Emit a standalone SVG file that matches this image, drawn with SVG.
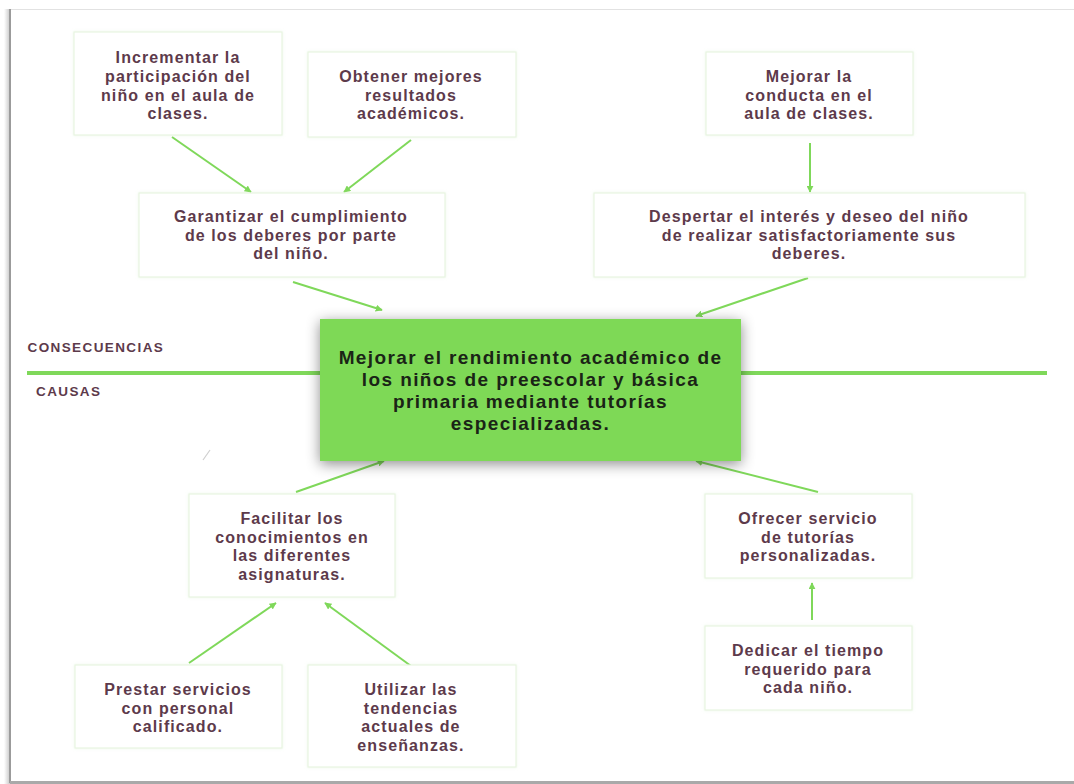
<svg xmlns="http://www.w3.org/2000/svg" width="1074" height="784" viewBox="0 0 1074 784">
<defs>
<style>
.box rect{fill:#ffffff;stroke:#e8f5e2;stroke-width:1.2}
.box text{font-family:"Liberation Sans",Arial,sans-serif;font-weight:700;font-size:16px;fill:#5d3a4b;text-anchor:middle;letter-spacing:1.1px}
.conn line{stroke:#7fd85a;stroke-width:2;marker-end:url(#ah)}
.lbl{font-family:"Liberation Sans",Arial,sans-serif;font-weight:700;font-size:13.5px;fill:#5d3a4b;letter-spacing:1.4px}
.main text{font-family:"Liberation Sans",Arial,sans-serif;font-weight:700;font-size:19px;fill:#1a2416;text-anchor:middle;letter-spacing:1.4px}
</style>
<marker id="ah" viewBox="0 0 10 10" refX="9" refY="5" markerWidth="3.5" markerHeight="3.5" orient="auto" markerUnits="strokeWidth">
<path d="M0,0 L10,5 L0,10 z" fill="#7fd85a"/>
</marker>
<filter id="bs" x="-10%" y="-10%" width="120%" height="120%">
<feDropShadow dx="0" dy="0" stdDeviation="1.5" flood-color="#c4e2b6" flood-opacity="0.3"/>
</filter>
<filter id="ms" x="-15%" y="-30%" width="130%" height="160%">
<feDropShadow dx="0" dy="3" stdDeviation="7" flood-color="#000" flood-opacity="0.45"/>
</filter>
<linearGradient id="lsh" x1="0" y1="0" x2="1" y2="0">
<stop offset="0" stop-color="#ffffff"/>
<stop offset="1" stop-color="#c8c8c8"/>
</linearGradient>
</defs>
<rect x="0" y="0" width="1074" height="784" fill="#ffffff"/>
<g id="frame">
<rect x="4" y="9" width="6" height="775" fill="url(#lsh)"/>
<line x1="10" y1="9.5" x2="1074" y2="9.5" stroke="#e2e2e2" stroke-width="1"/>
<line x1="10" y1="9" x2="10" y2="783" stroke="#9b9b9b" stroke-width="2"/>
<rect x="10" y="781" width="1064" height="3" fill="#a9a9a9"/>
</g>
<g id="axis">
<line x1="27" y1="373" x2="1047" y2="373" stroke="#7fd85a" stroke-width="4"/>
<text class="lbl" x="27.5" y="352">CONSECUENCIAS</text>
<text class="lbl" x="36" y="396">CAUSAS</text>
</g>
<line x1="203" y1="460" x2="210" y2="450" stroke="#cfcfcf" stroke-width="1.2"/>
<g id="connectors" class="conn">
<line x1="172" y1="137" x2="251" y2="192"/>
<line x1="411" y1="140" x2="344" y2="192"/>
<line x1="293" y1="282" x2="382" y2="310"/>
<line x1="810" y1="143" x2="810" y2="192"/>
<line x1="808" y1="278" x2="696" y2="316"/>
<line x1="296" y1="492" x2="384" y2="461"/>
<line x1="818" y1="492" x2="696" y2="461"/>
<line x1="189" y1="663" x2="276" y2="603"/>
<line x1="411" y1="666" x2="325" y2="603"/>
<line x1="812" y1="620" x2="812" y2="583"/>
</g>
<g id="main" class="main">
<rect x="320" y="319" width="421" height="142" fill="#7ed957" filter="url(#ms)"/>
<text x="530.5" y="364">Mejorar el rendimiento académico de</text>
<text x="530.5" y="386">los niños de preescolar y básica</text>
<text x="530.5" y="408">primaria mediante tutorías</text>
<text x="530.5" y="430">especializadas.</text>
</g>
<g id="n1" class="box">
<rect x="74" y="32" width="208" height="103" filter="url(#bs)"/>
<text x="178" y="63">Incrementar la</text>
<text x="178" y="82">participación del</text>
<text x="178" y="100.5">niño en el aula de</text>
<text x="178" y="119">clases.</text>
</g>
<g id="n2" class="box">
<rect x="308" y="52" width="208" height="85" filter="url(#bs)"/>
<text x="411" y="82">Obtener mejores</text>
<text x="411" y="100.5">resultados</text>
<text x="411" y="119">académicos.</text>
</g>
<g id="n3" class="box">
<rect x="706" y="52" width="207" height="83" filter="url(#bs)"/>
<text x="809" y="82">Mejorar la</text>
<text x="809" y="100.5">conducta en el</text>
<text x="809" y="119">aula de clases.</text>
</g>
<g id="n4" class="box">
<rect x="139" y="193" width="306" height="84" filter="url(#bs)"/>
<text x="291" y="222">Garantizar el cumplimiento</text>
<text x="291" y="240.5">de los deberes por parte</text>
<text x="291" y="259">del niño.</text>
</g>
<g id="n5" class="box">
<rect x="594" y="193" width="431" height="84" filter="url(#bs)"/>
<text x="809" y="222">Despertar el interés y deseo del niño</text>
<text x="809" y="240.5">de realizar satisfactoriamente sus</text>
<text x="809" y="259">deberes.</text>
</g>
<g id="n6" class="box">
<rect x="189" y="494" width="206" height="103" filter="url(#bs)"/>
<text x="292" y="524">Facilitar los</text>
<text x="292" y="542.5">conocimientos en</text>
<text x="292" y="561">las diferentes</text>
<text x="292" y="579.5">asignaturas.</text>
</g>
<g id="n7" class="box">
<rect x="705" y="494" width="207" height="84" filter="url(#bs)"/>
<text x="808" y="524">Ofrecer servicio</text>
<text x="808" y="542.5">de tutorías</text>
<text x="808" y="561">personalizadas.</text>
</g>
<g id="n8" class="box">
<rect x="75" y="665" width="207" height="83" filter="url(#bs)"/>
<text x="178" y="695">Prestar servicios</text>
<text x="178" y="713.5">con personal</text>
<text x="178" y="732">calificado.</text>
</g>
<g id="n9" class="box">
<rect x="308" y="665" width="208" height="102" filter="url(#bs)"/>
<text x="411" y="695">Utilizar las</text>
<text x="411" y="713.5">tendencias</text>
<text x="411" y="732">actuales de</text>
<text x="411" y="750.5">enseñanzas.</text>
</g>
<g id="n10" class="box">
<rect x="705" y="626" width="207" height="84" filter="url(#bs)"/>
<text x="808" y="656">Dedicar el tiempo</text>
<text x="808" y="674.5">requerido para</text>
<text x="808" y="693">cada niño.</text>
</g>
</svg>
